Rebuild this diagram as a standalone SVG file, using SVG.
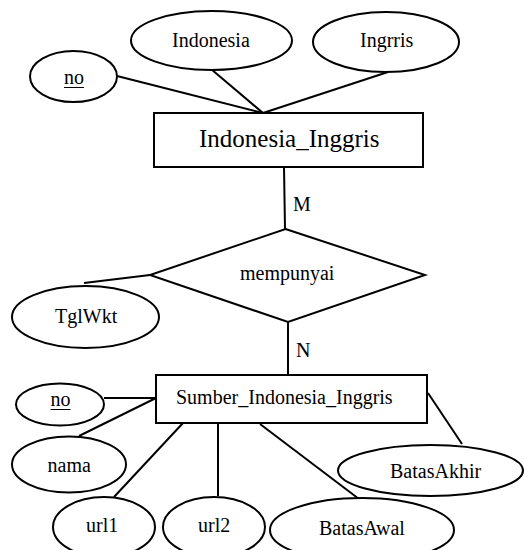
<svg xmlns="http://www.w3.org/2000/svg" width="524" height="550" viewBox="0 0 524 550">
<rect width="524" height="550" fill="#fff"/>
<g id="connectors" stroke="#000" stroke-width="2" fill="none">
<line x1="117" y1="76" x2="263" y2="113"/>
<line x1="211" y1="69" x2="263" y2="113"/>
<line x1="388" y1="72" x2="263" y2="113"/>
<line x1="284" y1="167" x2="285" y2="229"/>
<line x1="150" y1="275" x2="84" y2="283"/>
<line x1="288" y1="322" x2="288" y2="375"/>
<line x1="104" y1="398" x2="156" y2="398"/>
<line x1="156" y1="398" x2="79" y2="436"/>
<line x1="183" y1="423" x2="114" y2="497"/>
<line x1="218" y1="423" x2="218" y2="496"/>
<line x1="260" y1="424" x2="359" y2="499"/>
<line x1="428" y1="393" x2="462" y2="444"/>
</g>
<g stroke="#000" stroke-width="2" fill="#fff">
<g id="attr-no-top"><ellipse cx="73.5" cy="76.5" rx="43.5" ry="25.5"/></g>
<g id="attr-indonesia"><ellipse cx="211.5" cy="40.5" rx="80.5" ry="29.5"/></g>
<g id="attr-ingrris"><ellipse cx="386" cy="42" rx="73" ry="30"/></g>
<g id="entity-indonesia-inggris"><rect x="154" y="113" width="269" height="54"/></g>
<g id="rel-mempunyai"><polygon points="285.5,229 425,275 288,322 150,275"/></g>
<g id="attr-tglwkt"><ellipse cx="85.5" cy="317" rx="73.5" ry="31"/></g>
<g id="entity-sumber"><rect x="156" y="375" width="271" height="48"/></g>
<g id="attr-no-bottom"><ellipse cx="60" cy="404.5" rx="44" ry="21"/></g>
<g id="attr-nama"><ellipse cx="69" cy="464.5" rx="57" ry="28"/></g>
<g id="attr-url1"><ellipse cx="104" cy="527" rx="51" ry="30"/></g>
<g id="attr-url2"><ellipse cx="214" cy="527" rx="51" ry="30"/></g>
<g id="attr-batasawal"><ellipse cx="362" cy="530" rx="92" ry="32"/></g>
<g id="attr-batasakhir"><ellipse cx="430.5" cy="470.5" rx="92.5" ry="25.5"/></g>
</g>
<g stroke="#000" stroke-width="1">
<line x1="64" y1="87.5" x2="84" y2="87.5"/>
<line x1="50.5" y1="409.5" x2="70.5" y2="409.5"/>
</g>
<text x="64" y="84" font-family="Liberation Serif" font-size="20">no</text>
<text x="172" y="47" font-family="Liberation Serif" font-size="20">Indonesia</text>
<text x="360" y="47" font-family="Liberation Serif" font-size="20">Ingrris</text>
<text x="199" y="147" font-family="Liberation Serif" font-size="25">Indonesia_Inggris</text>
<text x="293" y="211" font-family="Liberation Serif" font-size="20">M</text>
<text x="240" y="280" font-family="Liberation Serif" font-size="20">mempunyai</text>
<text x="55" y="323" font-family="Liberation Serif" font-size="20">TglWkt</text>
<text x="296" y="357" font-family="Liberation Serif" font-size="20">N</text>
<text x="176" y="404" font-family="Liberation Serif" font-size="20">Sumber_Indonesia_Inggris</text>
<text x="50.5" y="406" font-family="Liberation Serif" font-size="20">no</text>
<text x="47.5" y="472" font-family="Liberation Serif" font-size="20">nama</text>
<text x="86" y="532" font-family="Liberation Serif" font-size="20">url1</text>
<text x="198" y="532" font-family="Liberation Serif" font-size="20">url2</text>
<text x="319" y="535" font-family="Liberation Serif" font-size="20">BatasAwal</text>
<text x="390" y="478" font-family="Liberation Serif" font-size="20">BatasAkhir</text>
</svg>
